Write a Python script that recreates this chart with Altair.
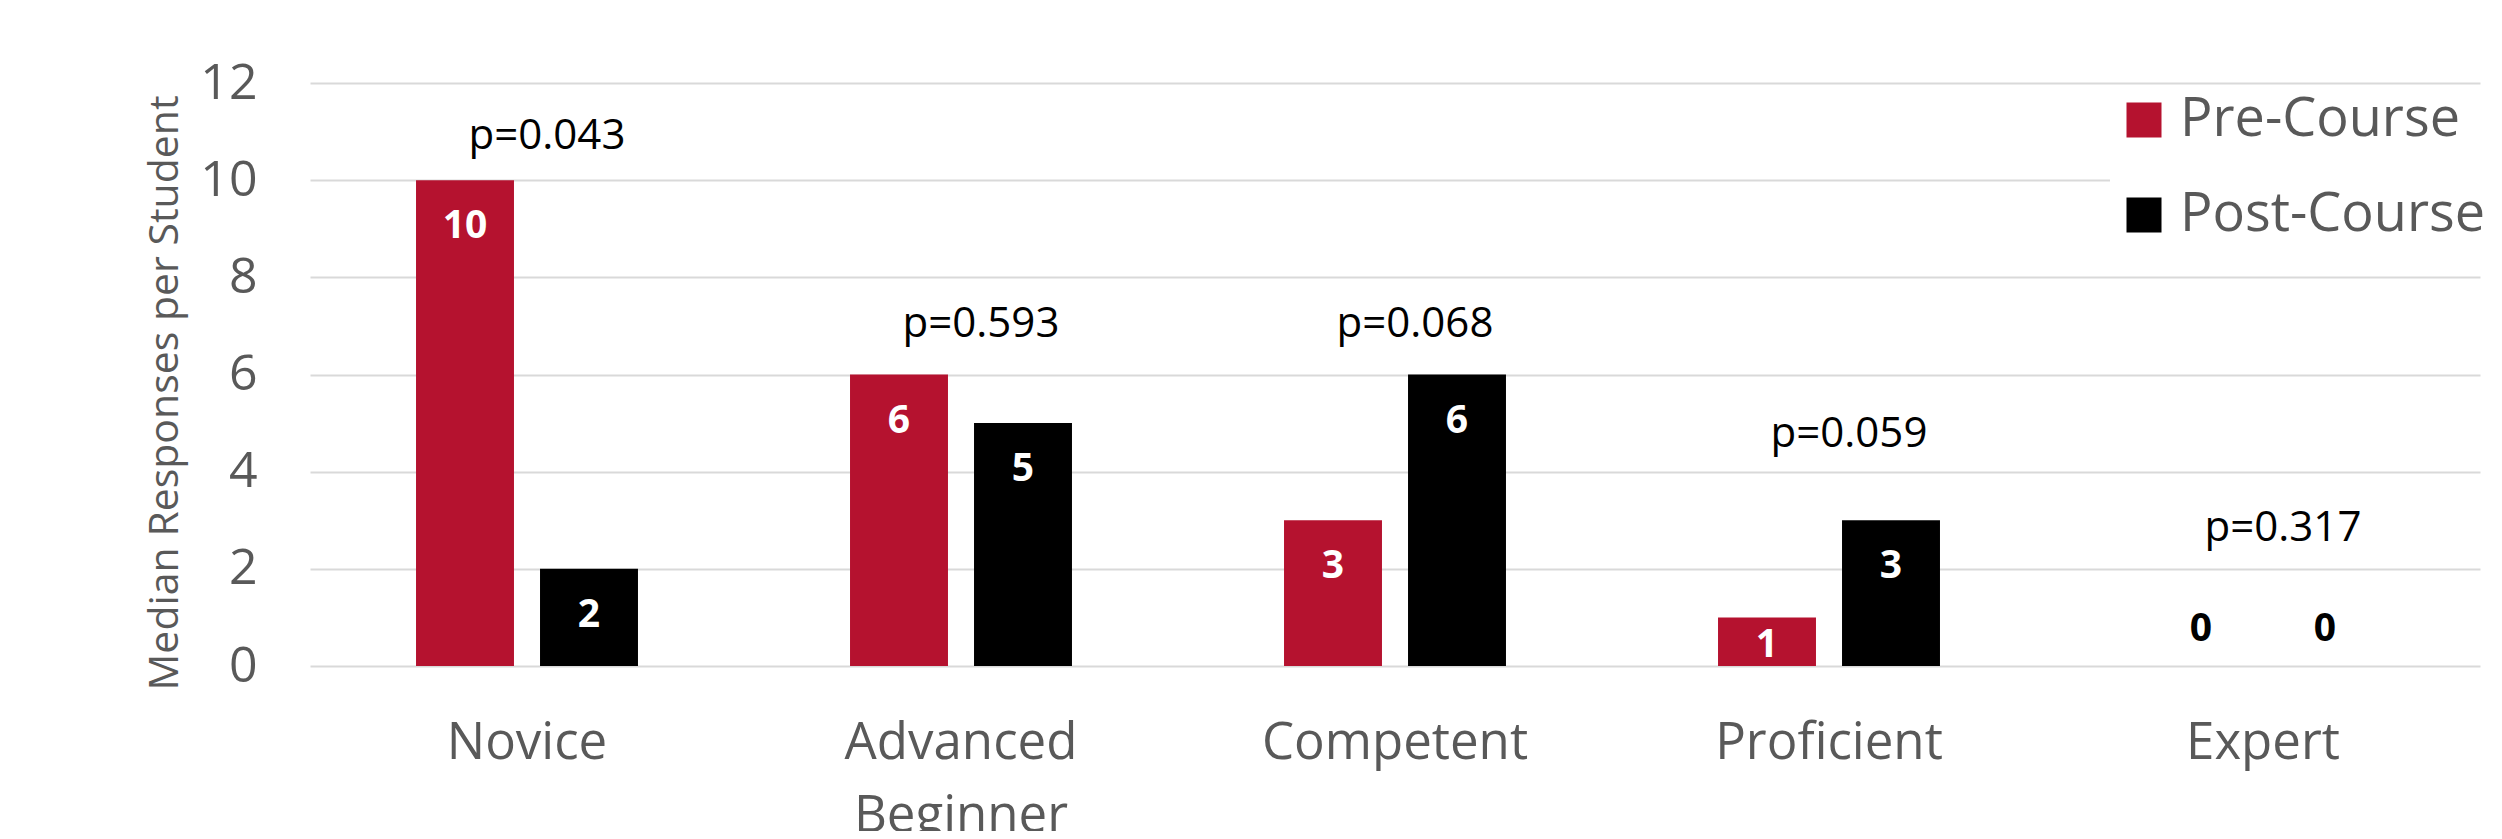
import altair as alt
import pandas as pd

categories = ["Novice", "Advanced Beginner", "Competent", "Proficient", "Expert"]
series_names = ["Pre-Course", "Post-Course"]
pre_values = [10, 6, 3, 1, 0]
post_values = [2, 5, 6, 3, 0]
p_labels = ["p=0.043", "p=0.593", "p=0.068", "p=0.059", "p=0.317"]
p_label_y = [10.9, 7.03, 7.03, 4.77, 2.85]

colors = ["#B5122F", "#000000"]
grey = "#595959"
FONT = "Open Sans"

rows = []
for c, a, b in zip(categories, pre_values, post_values):
    rows.append({"category": c, "series": series_names[0], "value": a})
    rows.append({"category": c, "series": series_names[1], "value": b})
df = pd.DataFrame(rows)
pdf = pd.DataFrame({"category": categories, "label": p_labels, "ypos": p_label_y})

x_enc = alt.X(
    "category:N",
    sort=categories,
    scale=alt.Scale(paddingInner=0, paddingOuter=0),
    axis=alt.Axis(
        title=None,
        labelFont=FONT,
        labelFontSize=51,
        labelColor=grey,
        labelAngle=0,
        labelPadding=52,
        labelBaseline="top",
        labelLimit=0,
        labelLineHeight=73,
        labelExpr="split(datum.label, ' ')",
        ticks=False,
        tickSize=0,
        domain=False,
        grid=False,
    ),
)
xoff = alt.XOffset(
    "series:N",
    sort=series_names,
    scale=alt.Scale(paddingInner=0.21, paddingOuter=0.855),
)
y_scale = alt.Scale(domain=[0, 12], nice=False)
y_enc = alt.Y(
    "value:Q",
    scale=y_scale,
    axis=alt.Axis(
        values=[0, 2, 4, 6, 8, 10, 12],
        grid=True,
        gridColor="#D9D9D9",
        gridWidth=2,
        domain=False,
        ticks=False,
        tickSize=0,
        labelFont=FONT,
        labelFontSize=50,
        labelColor=grey,
        labelPadding=53,
        title="Median Responses per Student",
        titleFont=FONT,
        titleFontSize=41,
        titleFontWeight="normal",
        titleColor=grey,
        titleAngle=270,
        titleAlign="center",
        titleBaseline="alphabetic",
        titleX=-133,
        titleY=309.5,
    ),
)

bars = alt.Chart(df).mark_bar().encode(
    x=x_enc,
    xOffset=xoff,
    y=y_enc,
    color=alt.Color(
        "series:N",
        sort=series_names,
        scale=alt.Scale(domain=series_names, range=colors),
        legend=alt.Legend(
            title=None,
            orient="none",
            legendX=1800,
            legendY=3,
            padding=7,
            fillColor="white",
            symbolType="square",
            symbolSize=1225,
            symbolStrokeWidth=0,
            labelFont=FONT,
            labelFontSize=54,
            labelColor=grey,
            labelOffset=9,
            labelLimit=0,
            rowPadding=41,
        ),
    ),
)

text_big = alt.Chart(df).transform_filter("datum.value >= 2").mark_text(
    font=FONT, fontSize=39, fontWeight="bold", color="white", baseline="middle", dy=46
).encode(
    x=alt.X("category:N", sort=categories),
    xOffset=alt.XOffset("series:N", sort=series_names),
    y=alt.Y("value:Q"),
    text=alt.Text("value:Q"),
)

text_small = alt.Chart(df).transform_filter(
    "datum.value > 0 && datum.value < 2"
).transform_calculate(half="datum.value / 2").mark_text(
    font=FONT, fontSize=39, fontWeight="bold", color="white", baseline="middle", dy=3
).encode(
    x=alt.X("category:N", sort=categories),
    xOffset=alt.XOffset("series:N", sort=series_names),
    y=alt.Y("half:Q"),
    text=alt.Text("value:Q"),
)

text_zero = alt.Chart(df).transform_filter("datum.value == 0").mark_text(
    font=FONT, fontSize=39, fontWeight="bold", color="black", baseline="middle", dy=-37
).encode(
    x=alt.X("category:N", sort=categories),
    xOffset=alt.XOffset("series:N", sort=series_names),
    y=alt.Y("value:Q"),
    text=alt.Text("value:Q"),
)

p_text = alt.Chart(pdf).mark_text(
    font=FONT, fontSize=42, color="black", baseline="middle", dx=20
).encode(
    x=alt.X("category:N", sort=categories),
    y=alt.Y("ypos:Q"),
    text="label:N",
)

chart = alt.layer(bars, text_big, text_small, text_zero, p_text).properties(
    width=2170,
    height=583,
    autosize=alt.AutoSizeParams(type="none"),
    padding={"left": 302, "top": 75, "right": 14, "bottom": 165},
    background="white",
).configure_view(stroke=None)

chart.save("out.html", embed_options={"renderer": "svg", "actions": False})
